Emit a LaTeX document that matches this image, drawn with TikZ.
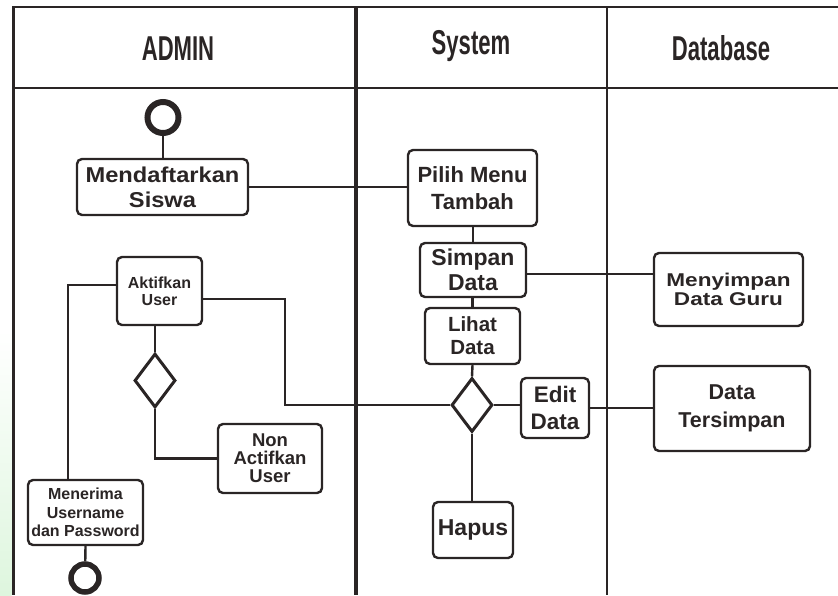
\documentclass[tikz,border=0pt]{standalone}
\usepackage{fontspec}
\setmainfont{Liberation Sans}
\newfontfamily\headfont[FakeStretch=0.64]{Liberation Sans}
\newfontfamily\widefont[FakeStretch=1.22]{Liberation Sans}
\newfontfamily\midfont[FakeStretch=1.1]{Liberation Sans}
\usetikzlibrary{shapes.geometric}
\definecolor{ink}{RGB}{42,37,37}
\definecolor{wm}{RGB}{222,246,222}
\tikzset{
  act/.style={draw=ink, line width=2.4pt, rounded corners=5pt, align=center,
    inner sep=0pt, text=ink},
  dec/.style={draw=ink, line width=3pt, diamond, inner sep=0pt,
    minimum width=41pt, minimum height=54pt},
  term/.style={draw=ink, circle, inner sep=0pt},
  conn/.style={draw=ink, line width=2.4pt},
  lane/.style={draw=ink},
  head/.style={text=ink, font=\headfont\bfseries\fontsize{34.5}{36}\selectfont, inner sep=0pt}
}
\begin{document}
\begin{tikzpicture}[x=1pt,y=-1pt]
\useasboundingbox (0,0) rectangle (838,595);
% watermark tint
\shade[top color=white, bottom color=wm] (0,330) rectangle (11.5,595);
% swimlanes
\draw[lane, line width=2pt] (12,7) -- (838,7);
\draw[lane, line width=2.3pt] (13,88) -- (838,88);
\draw[lane, line width=3pt] (13,6) -- (13,595);
\draw[lane, line width=4.5pt] (356,7) -- (356,595);
\draw[lane, line width=2.3pt] (607,7) -- (607,595);
\node[head] (hadmin) at (178,49) {ADMIN};
\node[head] (hsys) at (471,46) {System};
\node[head] (hdb) at (721,48) {Database};
% nodes
\node[term, line width=6pt, minimum size=31pt] (start) at (163,117.5) {};
\node[act, minimum width=171pt, minimum height=56pt,
  font=\midfont\bfseries\fontsize{21.5}{25}\selectfont] (daftar) at (162.5,187) {Mendaftarkan\\Siswa};
\node[act, minimum width=129pt, minimum height=76pt,
  font=\bfseries\fontsize{22}{27}\selectfont] (pilih) at (472.5,188) {Pilih Menu\\Tambah};
\node[act, minimum width=106pt, minimum height=54pt,
  font=\bfseries\fontsize{23}{25}\selectfont] (simpan) at (473,270) {Simpan\\Data};
\node[act, minimum width=149pt, minimum height=73pt,
  font=\widefont\bfseries\fontsize{18.5}{18.5}\selectfont] (guru) at (728.5,289.5) {Menyimpan\\Data Guru};
\node[act, minimum width=95pt, minimum height=56pt,
  font=\bfseries\fontsize{20.5}{23}\selectfont] (lihat) at (472.5,336) {Lihat\\Data};
\node[dec] (ds) at (472,405) {};
\node[act, minimum width=68pt, minimum height=60pt,
  font=\bfseries\fontsize{22.5}{27}\selectfont] (edit) at (555,408) {Edit\\Data};
\node[act, minimum width=156pt, minimum height=85pt,
  font=\bfseries\fontsize{21.5}{28}\selectfont] (tsimpan) at (732,408.5) {Data\\Tersimpan};
\node[act, minimum width=80pt, minimum height=56pt,
  font=\bfseries\fontsize{23}{25}\selectfont] (hapus) at (473,530) {Hapus};
\node[act, minimum width=85pt, minimum height=68pt,
  font=\bfseries\fontsize{16}{17}\selectfont] (aktif) at (159.5,291) {Aktifkan\\User};
\node[dec] (da) at (155,380.5) {};
\node[act, minimum width=104pt, minimum height=69pt,
  font=\bfseries\fontsize{18.5}{18}\selectfont] (non) at (270,458.5) {Non\\Actifkan\\User};
\node[act, minimum width=115pt, minimum height=65pt,
  font=\bfseries\fontsize{16}{18.5}\selectfont] (terima) at (85.5,512.5) {Menerima\\Username\\dan Password};
\node[term, line width=5.5pt, minimum size=28pt] (end) at (85,578) {};
% helper coordinates
\coordinate (c1) at ([yshift=-4pt]simpan.east);
\coordinate (c2) at ([yshift=-8pt]aktif.east);
\coordinate (c3) at ([yshift=6pt]aktif.west);
\coordinate (bx) at (285,405);
\coordinate (c4) at ([xshift=-17.5pt]terima.north);
% connectors
\draw[conn] (start) -- (start |- daftar.north);
\draw[conn] (daftar.east) -- (daftar.east -| pilih.west);
\draw[conn] (pilih.south -| simpan.north) -- (simpan.north);
\draw[conn] (c1) -- (c1 -| guru.west);
\draw[conn] (simpan.south) -- (simpan.south -| lihat.north) -- (lihat.north);
\draw[conn] (lihat.south) -- (ds.north);
\draw[conn] (ds.east) -- (ds.east -| edit.west);
\draw[conn] (edit.east) -- (edit.east -| tsimpan.west);
\draw[conn] (ds.south) -- (ds.south |- hapus.north);
\draw[conn] (ds.west) -- (bx) |- (c2);
\draw[conn] (c3) -| (c4);
\draw[conn] (da.north |- aktif.south) -- (da.north);
\draw[conn] (da.south) |- (non.west);
\draw[conn] (terima.south) -- (end);
\end{tikzpicture}
\end{document}
